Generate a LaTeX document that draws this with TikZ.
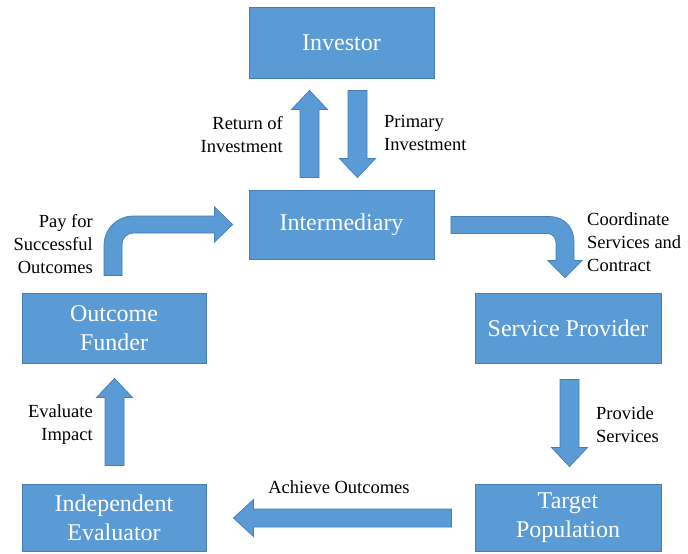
\documentclass[tikz,border=0pt]{standalone}
\usepackage{fontspec}
\setmainfont{Liberation Serif}
\usetikzlibrary{calc}
\definecolor{boxfill}{RGB}{91,155,213}
\definecolor{boxline}{RGB}{70,125,182}
\tikzset{
  box/.style={draw=boxline, line width=0.9pt, fill=boxfill, text=white,
    minimum width=185pt, minimum height=70pt, inner sep=0pt, align=center,
    font=\fontsize{24}{29}\selectfont},
  barrow/.style={fill=boxfill, draw=boxline, line width=0.7pt, line join=miter},
  lbl/.style={inner sep=0pt, font=\fontsize{18.5}{23}\selectfont}
}
% block arrows: #1 start, #2 tip
\newcommand\arrDown[2]{\filldraw[barrow] ($(#1)+(-9.5,0)$) -- ($(#2)+(-9.5,-19)$) -- ($(#2)+(-18,-19)$) -- (#2) -- ($(#2)+(18,-19)$) -- ($(#2)+(9.5,-19)$) -- ($(#1)+(9.5,0)$) -- cycle;}
\newcommand\arrUp[2]{\filldraw[barrow] ($(#1)+(-9.5,0)$) -- ($(#2)+(-9.5,19)$) -- ($(#2)+(-18,19)$) -- (#2) -- ($(#2)+(18,19)$) -- ($(#2)+(9.5,19)$) -- ($(#1)+(9.5,0)$) -- cycle;}
\newcommand\arrLeft[2]{\filldraw[barrow] ($(#1)+(0,-9)$) -- ($(#2)+(20,-9)$) -- ($(#2)+(20,-18.5)$) -- (#2) -- ($(#2)+(20,18.5)$) -- ($(#2)+(20,9)$) -- ($(#1)+(0,9)$) -- cycle;}
\begin{document}
\begin{tikzpicture}[x=1pt, y=-1pt]
\useasboundingbox (0,0) rectangle (688,554);
% boxes
\node[box, minimum height=71pt] (inv) at (341.5,42.5) {Investor};
\node[box, minimum height=69pt] (int) at (341.5,224.5) {Intermediary};
\node[box, minimum width=186pt] (sp) at (568,328) {Service Provider};
\node[box, minimum width=186pt, minimum height=67pt] (tp) at (568,517.5) {Target\\Population};
\node[box, minimum width=184pt, minimum height=67pt] (ie) at (114,517.5) {Independent\\Evaluator};
\node[box, minimum width=184pt] (of) at (114,328) {Outcome\\Funder};
% straight arrows
\coordinate (a1s) at ($(int.north)+(-32,-12)$);
\coordinate (a1e) at ($(inv.south)+(-32,12)$);
\arrUp{a1s}{a1e}
\coordinate (a2s) at ($(inv.south)+(16,12)$);
\coordinate (a2e) at ($(int.north)+(16,-12)$);
\arrDown{a2s}{a2e}
\coordinate (a3s) at ($(sp.south)+(1.5,16)$);
\coordinate (a3e) at ($(tp.north)+(1.5,-17)$);
\arrDown{a3s}{a3e}
\coordinate (a4s) at ($(tp.west)+(-23,0.5)$);
\coordinate (a4e) at ($(ie.east)+(27,0.5)$);
\arrLeft{a4s}{a4e}
\coordinate (a5s) at ($(ie.north)+(0.5,-18)$);
\coordinate (a5e) at ($(of.south)+(0.5,15)$);
\arrUp{a5s}{a5e}
% curved arrow: Outcome Funder -> Intermediary
\coordinate (c1s) at ($(of.north)+(-1,-17)$);
\coordinate (c1e) at ($(int.west)+(-16,0)$);
\filldraw[barrow] ($(c1s)+(-9,0)$) -- ($(c1s)+(-9,-30)$)
  .. controls ($(c1s)+(-9,-46.6)$) and ($(c1e)+(-115.6,-8.5)$) .. ($(c1e)+(-99,-8.5)$)
  -- ($(c1e)+(-18,-8.5)$) -- ($(c1e)+(-18,-17.5)$) -- (c1e) -- ($(c1e)+(-18,17.5)$)
  -- ($(c1e)+(-18,8.5)$) -- ($(c1e)+(-99,8.5)$)
  .. controls ($(c1e)+(-105.6,8.5)$) and ($(c1s)+(9,-37.6)$) .. ($(c1s)+(9,-31)$)
  -- ($(c1s)+(9,0)$) -- cycle;
% curved arrow: Intermediary -> Service Provider
\coordinate (c2s) at ($(int.east)+(16.5,0.5)$);
\coordinate (c2e) at ($(sp.north)+(-3,-15)$);
\filldraw[barrow] ($(c2s)+(0,-8.5)$) -- ($(c2s)+(99,-8.5)$)
  .. controls ($(c2s)+(112.8,-8.5)$) and ($(c2e)+(9,-50.3)$) .. ($(c2e)+(9,-36)$)
  -- ($(c2e)+(9,-17)$) -- ($(c2e)+(17,-17)$) -- (c2e) -- ($(c2e)+(-17,-17)$)
  -- ($(c2e)+(-9,-17)$) -- ($(c2e)+(-9,-34.5)$)
  .. controls ($(c2e)+(-9,-40)$) and ($(c2s)+(101.5,8.5)$) .. ($(c2s)+(96,8.5)$)
  -- ($(c2s)+(0,8.5)$) -- cycle;
% labels
\node[lbl, anchor=east, align=right] (l1) at (283,134.5) {Return of\\Investment};
\node[lbl, anchor=west, align=left] (l2) at (384,133) {Primary\\Investment};
\node[lbl, anchor=east, align=right] (l3) at (93,244) {Pay for\\Successful\\Outcomes};
\node[lbl, anchor=west, align=left] (l4) at (587,242) {Coordinate\\Services and\\Contract};
\node[lbl, anchor=east, align=right] (l5) at (93,425) {Evaluate\\Impact};
\node[lbl, anchor=west, align=left] (l6) at (596,425) {Provide\\Services};
\node[lbl] (l7) at (339,487) {Achieve Outcomes};
\end{tikzpicture}
\end{document}
